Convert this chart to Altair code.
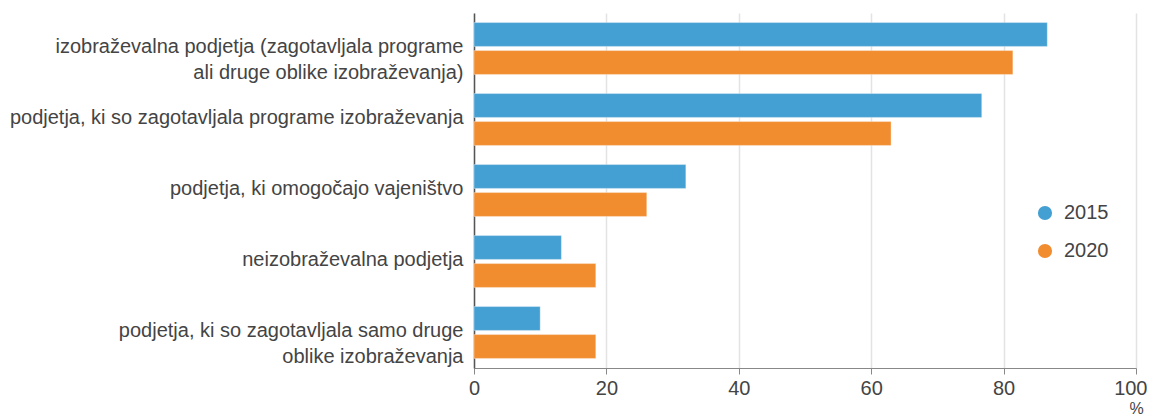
import altair as alt
import pandas as pd

categories = [
    "izobraževalna podjetja (zagotavljala programe|ali druge oblike izobraževanja)",
    "podjetja, ki so zagotavljala programe izobraževanja",
    "podjetja, ki omogočajo vajeništvo",
    "neizobraževalna podjetja",
    "podjetja, ki so zagotavljala samo druge|oblike izobraževanja",
]
years = ["2015", "2020"]
values_2015 = [86.6, 76.7, 32.0, 13.2, 10.0]
values_2020 = [81.4, 63.0, 26.1, 18.4, 18.4]
colors = ["#449fd2", "#f18c2f"]
x_ticks = [0, 20, 40, 60, 80, 100]

rows = []
for c, a, b in zip(categories, values_2015, values_2020):
    rows.append({"kategorija": c, "leto": years[0], "vrednost": a})
    rows.append({"kategorija": c, "leto": years[1], "vrednost": b})
df = pd.DataFrame(rows)

FS = 20
TXT = "#444444"
FONT = "Liberation Sans"

chart = alt.Chart(df).mark_bar(
    stroke="white", strokeWidth=1, strokeOpacity=0.35
).encode(
    x=alt.X(
        "vrednost:Q",
        scale=alt.Scale(domain=[0, 100], nice=False),
        axis=alt.Axis(
            values=x_ticks,
            title="%",
            titleAnchor="end",
            titleAlign="center",
            titleBaseline="top",
            titleX=662,
            titleY=32,
            titleFontSize=16,
            titleFontWeight="normal",
            titleColor=TXT,
            labelFontSize=FS,
            labelColor=TXT,
            labelFont=FONT,
            titleFont=FONT,
            labelPadding=4,
            labelAlign={"condition": {"test": "datum.value == 100", "value": "right"}, "value": "center"},
            labelOffset={"condition": {"test": "datum.value == 100", "value": 11}, "value": 0},
            tickSize=6,
            tickColor="#888888",
            domainColor="#888888",
            gridColor="#e3e3e3",
            gridWidth=1.5,
            labelFlush=False,
        ),
    ),
    y=alt.Y(
        "kategorija:N",
        sort=categories,
        scale=alt.Scale(paddingInner=0.27, paddingOuter=0.135),
        axis=alt.Axis(
            title=None,
            labelExpr="split(datum.label, '|')",
            labelFontSize=FS,
            labelLineHeight=26,
            labelColor=TXT,
            labelFont=FONT,
            labelLimit=600,
            tickSize=0,
            labelPadding=11,
            labelOffset=-2,
            domainColor="#555555",
            domainWidth=1.5,
            grid=False,
        ),
    ),
    yOffset=alt.YOffset(
        "leto:N",
        sort=years,
        scale=alt.Scale(paddingInner=0.15, paddingOuter=0),
    ),
    color=alt.Color(
        "leto:N",
        sort=years,
        scale=alt.Scale(domain=years, range=colors),
        legend=alt.Legend(
            title=None,
            orient="none",
            legendX=561,
            legendY=190,
            symbolType="circle",
            symbolSize=200,
            symbolStrokeWidth=0,
            labelFontSize=FS,
            labelColor=TXT,
            labelFont=FONT,
            rowPadding=18,
            labelOffset=9,
        ),
    ),
).properties(
    width=662,
    height=355,
    autosize=alt.AutoSizeParams(type="none"),
    padding={"left": 466, "top": 5, "right": 11, "bottom": 51},
).configure_view(stroke=None)

chart.save("out.html", embed_options={"renderer": "svg", "actions": False})
